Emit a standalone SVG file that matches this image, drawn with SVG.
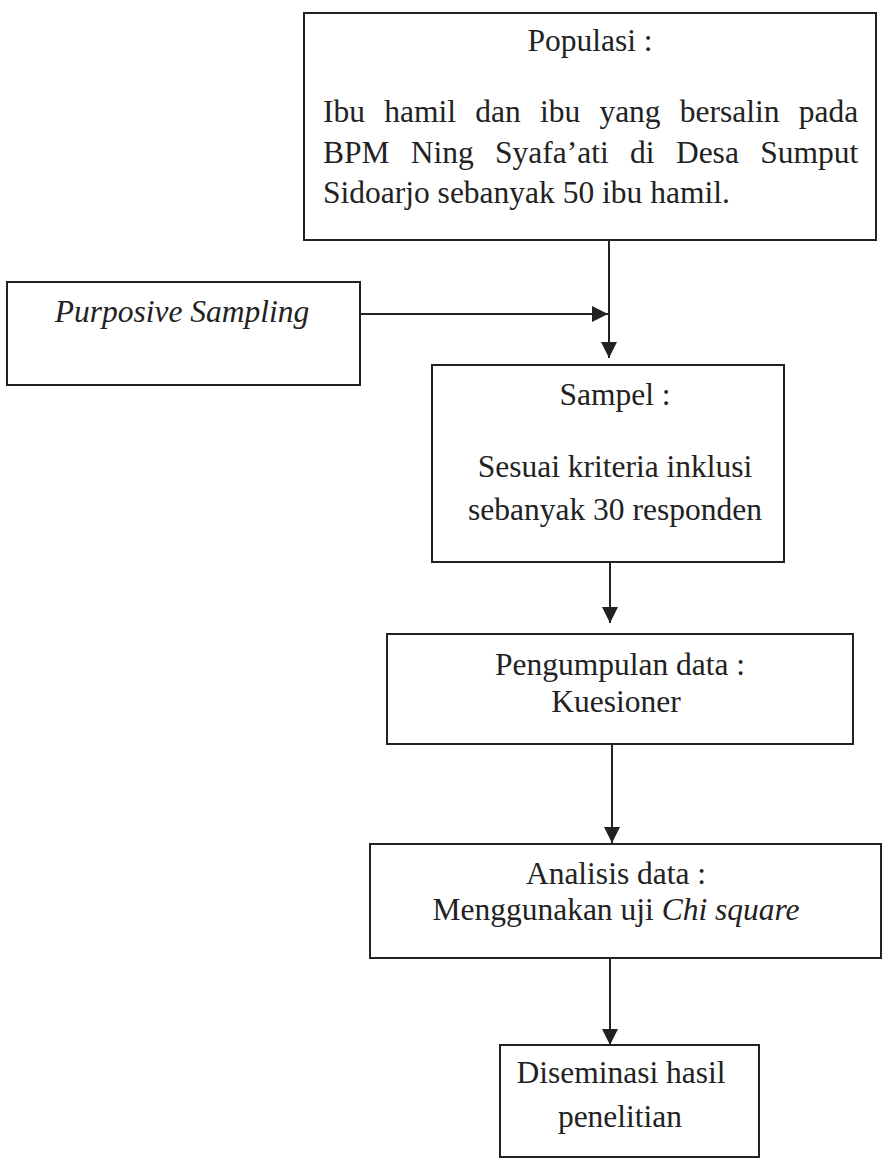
<svg xmlns="http://www.w3.org/2000/svg" width="883" height="1160" viewBox="0 0 883 1160">
<style>
.box{fill:#fff;stroke:#222;stroke-width:2}
.t{font-family:"Liberation Serif","Times New Roman",serif;font-size:31.5px;fill:#222}
.c{text-anchor:middle}
.i{font-style:italic}
.ln{stroke:#222;stroke-width:2;fill:none}
</style>
<defs>
<marker id="ah" markerUnits="userSpaceOnUse" markerWidth="16" markerHeight="16" refX="16" refY="8" orient="auto">
<path d="M0,0 L16,8 L0,16 z" fill="#222"/>
</marker>
</defs>
<rect width="883" height="1160" fill="#fff"/>
<g id="connectors">
<line class="ln" x1="609" y1="240" x2="609" y2="358" marker-end="url(#ah)"/>
<line class="ln" x1="360" y1="314" x2="608" y2="314" marker-end="url(#ah)"/>
<line class="ln" x1="610" y1="562" x2="610" y2="623" marker-end="url(#ah)"/>
<line class="ln" x1="612" y1="744" x2="612" y2="843" marker-end="url(#ah)"/>
<line class="ln" x1="610" y1="958" x2="610" y2="1045" marker-end="url(#ah)"/>
</g>
<g id="populasi">
<rect class="box" x="304" y="13" width="572" height="227"/>
<text class="t c" x="590" y="51">Populasi :</text>
<text class="t" y="122"><tspan x="323">Ibu</tspan> <tspan x="384.2">hamil</tspan> <tspan x="475.2">dan</tspan> <tspan x="539.9">ibu</tspan> <tspan x="599.4">yang</tspan> <tspan x="679.8">bersalin</tspan> <tspan x="798.7">pada</tspan></text>
<text class="t" y="163"><tspan x="323">BPM</tspan> <tspan x="410.8">Ning</tspan> <tspan x="495.1">Syafa’ati</tspan> <tspan x="630.1">di</tspan> <tspan x="675.9">Desa</tspan> <tspan x="760.2">Sumput</tspan></text>
<text class="t" x="323" y="203">Sidoarjo sebanyak 50 ibu hamil.</text>
</g>
<g id="purposive">
<rect class="box" x="7" y="282" width="353" height="103"/>
<text class="t c i" x="182" y="322">Purposive Sampling</text>
</g>
<g id="sampel">
<rect class="box" x="432" y="365" width="352" height="197"/>
<text class="t c" x="615" y="405">Sampel :</text>
<text class="t c" x="615" y="477">Sesuai kriteria inklusi</text>
<text class="t c" x="615" y="520">sebanyak 30 responden</text>
</g>
<g id="pengumpulan">
<rect class="box" x="387" y="634" width="466" height="110"/>
<text class="t c" x="620" y="675">Pengumpulan data :</text>
<text class="t c" x="616" y="712">Kuesioner</text>
</g>
<g id="analisis">
<rect class="box" x="370" y="844" width="511" height="114"/>
<text class="t c" x="616" y="884">Analisis data :</text>
<text class="t c" x="616" y="920">Menggunakan uji <tspan class="i">Chi square</tspan></text>
</g>
<g id="diseminasi">
<rect class="box" x="500" y="1045" width="259" height="112"/>
<text class="t c" x="621" y="1083">Diseminasi hasil</text>
<text class="t c" x="620" y="1127">penelitian</text>
</g>
</svg>
